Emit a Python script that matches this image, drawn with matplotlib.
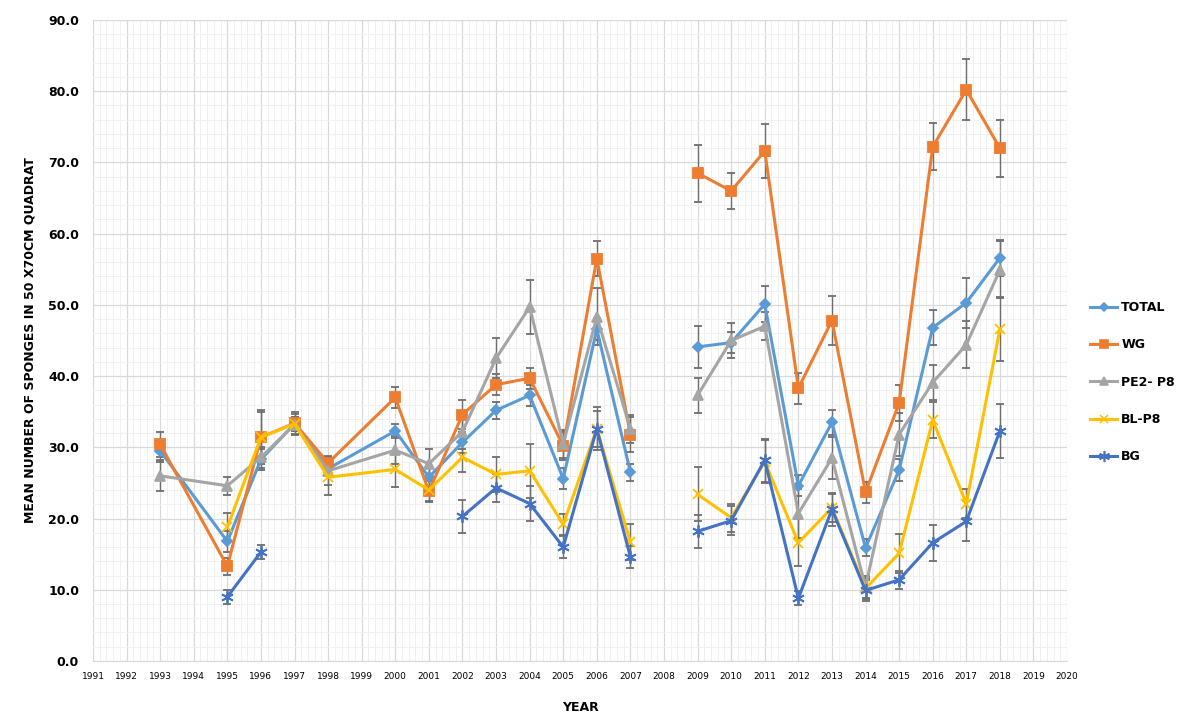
import numpy as np
import matplotlib.pyplot as plt
from matplotlib.lines import Line2D
from matplotlib.ticker import MultipleLocator, FormatStrFormatter

# Survey years (1994 and 1999 not sampled; 2008 left blank so the lines break)
years = [1993, 1995, 1996, 1997, 1998, 2000, 2001, 2002, 2003, 2004, 2005, 2006,
         2007, 2008, 2009, 2010, 2011, 2012, 2013, 2014, 2015, 2016, 2017, 2018]
nan = np.nan

total = [29.5, 16.8, 28.3, 33.3, 27.0, 32.3, 25.8, 30.7, 35.2, 37.3, 25.6, 46.6,
         26.5, nan, 44.1, 44.7, 50.1, 24.6, 33.5, 15.9, 26.8, 46.8, 50.3, 56.6]
wg = [30.4, 13.3, 31.4, 33.4, 27.8, 37.0, 23.8, 34.6, 38.8, 39.7, 30.2, 56.5,
      31.8, nan, 68.5, 66.0, 71.6, 38.3, 47.8, 23.7, 36.2, 72.2, 80.2, 72.0]
pe2_p8 = [26.0, 24.6, 28.6, 33.2, 26.7, 29.6, 27.7, 32.2, 42.5, 49.7, 30.5, 48.3,
          32.6, nan, 37.3, 45.0, 47.0, 20.7, 28.5, 10.4, 31.8, 39.1, 44.4, 54.9]
bl_p8 = [nan, 18.8, 31.4, 33.3, 25.8, 26.9, 24.0, 28.6, 26.2, 26.7, 19.2, 32.6,
         16.7, nan, 23.4, 20.1, 28.0, 16.6, 21.5, 10.2, 15.1, 33.8, 22.1, 46.6]
bg = [nan, 9.0, 15.3, nan, nan, nan, nan, 20.3, 24.3, 22.1, 16.0, 32.6,
      14.6, nan, 18.2, 19.7, 28.2, 8.8, 21.3, 9.9, 11.4, 16.6, 19.6, 32.3]

# Standard errors
total_err = [1.5, 1.5, 1.5, 1.0, 1.0, 1.0, 1.5, 1.5, 1.2, 1.5, 1.5, 1.5,
             1.2, nan, 3.0, 1.5, 2.5, 1.5, 1.8, 1.2, 1.5, 2.5, 3.5, 2.5]
wg_err = [1.8, 1.2, 3.8, 1.5, 1.0, 1.5, 1.5, 2.0, 1.5, 1.5, 2.0, 2.5,
          2.5, nan, 4.0, 2.5, 3.8, 2.2, 3.5, 1.5, 2.5, 3.3, 4.3, 4.0]
pe2_p8_err = [2.2, 1.3, 1.5, 1.5, 2.0, 2.0, 2.0, 2.5, 2.8, 3.8, 2.0, 4.0,
              2.0, nan, 2.5, 2.5, 2.0, 3.5, 3.0, 1.5, 3.0, 2.5, 3.3, 4.0]
bl_p8_err = [nan, 2.0, 3.5, 1.0, 2.5, 2.5, 1.5, 2.0, 2.5, 3.8, 1.5, 2.5,
             2.5, nan, 3.8, 2.0, 3.0, 3.3, 2.0, 1.5, 2.8, 2.5, 2.0, 4.5]
bg_err = [nan, 1.0, 1.0, nan, nan, nan, nan, 2.3, 2.0, 2.5, 1.5, 3.0,
          1.5, nan, 2.3, 2.0, 3.0, 1.0, 2.3, 1.5, 1.3, 2.5, 2.8, 3.8]

series = [
    ('TOTAL', total, total_err, '#5B9BD5', 'D', 5),
    ('WG', wg, wg_err, '#ED7D31', 's', 7),
    ('PE2- P8', pe2_p8, pe2_p8_err, '#A5A5A5', '^', 7),
    ('BL-P8', bl_p8, bl_p8_err, '#FFC000', 'x', 7),
    ('BG', bg, bg_err, '#4472C4', (6, 2, 0), 9),
]

fam = ['Liberation Sans Narrow', 'DejaVu Sans']

fig = plt.figure(figsize=(12.03, 7.27), dpi=100)
ax = fig.add_axes([0.0773, 0.0908, 0.8097, 0.8817])

handles = []
for name, vals, err, col, mk, ms in series:
    ax.errorbar(years, vals, yerr=err, color=col, marker=mk, markersize=ms,
                markeredgewidth=1.3, linewidth=2.2, ecolor='#6E6E6E',
                elinewidth=1.0, capsize=3, capthick=1.0, zorder=3)
    handles.append(Line2D([], [], color=col, marker=mk, markersize=ms - 1,
                          markeredgewidth=1.2, linewidth=2.2, label=name))

ax.set_xlim(1991, 2020)
ax.set_ylim(0, 90)
ax.xaxis.set_major_locator(MultipleLocator(1))
ax.xaxis.set_minor_locator(MultipleLocator(0.2))
ax.yaxis.set_major_locator(MultipleLocator(10))
ax.yaxis.set_minor_locator(MultipleLocator(2))
ax.yaxis.set_major_formatter(FormatStrFormatter('%.1f'))

ax.grid(which='major', color='#D9D9D9', linewidth=0.9)
ax.grid(which='minor', color='#F0F0F0', linewidth=0.7)
ax.set_axisbelow(True)
for s in ax.spines.values():
    s.set_visible(False)
ax.spines['bottom'].set_visible(True)
ax.spines['bottom'].set_color('#D9D9D9')
ax.tick_params(which='both', length=0)
ax.tick_params(axis='x', labelsize=6.5, pad=8)
ax.tick_params(axis='y', labelsize=9, pad=10)
for lab in ax.get_yticklabels():
    lab.set_fontweight('bold')
    lab.set_family(fam)
for lab in ax.get_xticklabels():
    lab.set_family(fam)

ax.set_xlabel('YEAR', fontsize=9, fontweight='bold', family=fam, labelpad=14)
ax.set_ylabel('MEAN NUMBER OF SPONGES IN 50 X70CM QUADRAT', fontsize=9,
              fontweight='bold', family=fam, labelpad=8)

ax.legend(handles=handles, loc='center left', bbox_to_anchor=(1.012, 0.435),
          frameon=False, labelspacing=1.95, handlelength=2.2, handletextpad=0.3,
          prop={'family': fam, 'weight': 'bold', 'size': 9})

fig.savefig('out.png', dpi=100)
